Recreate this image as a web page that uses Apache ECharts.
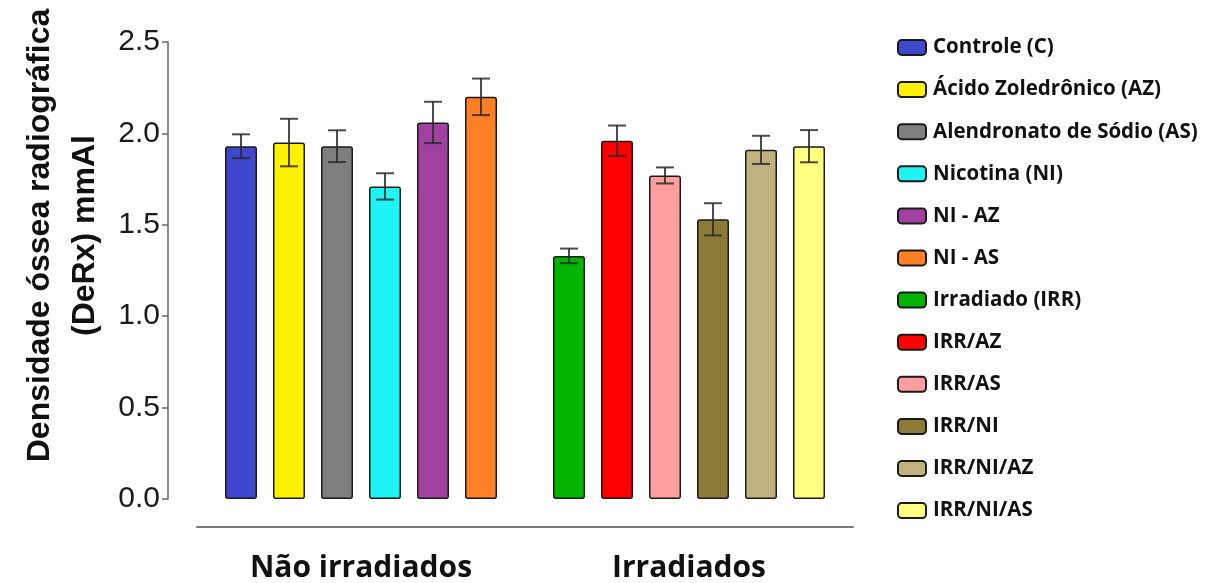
<!DOCTYPE html>
<html>
<head>
<meta charset="utf-8">
<script src="https://cdn.jsdelivr.net/npm/echarts@6/dist/echarts.min.js"></script>
<style>
html,body{margin:0;padding:0;background:#fff;}
#chart{width:1218px;height:583px;}
</style>
</head>
<body>
<div id="chart"></div>
<script>
var categories = ['Não irradiados', 'Irradiados'];
var names1 = ['Controle (C)', 'Ácido Zoledrônico (AZ)', 'Alendronato de Sódio (AS)', 'Nicotina (NI)', 'NI - AZ', 'NI - AS'];
var names2 = ['Irradiado (IRR)', 'IRR/AZ', 'IRR/AS', 'IRR/NI', 'IRR/NI/AZ', 'IRR/NI/AS'];
var means1 = [1.93, 1.95, 1.93, 1.71, 2.06, 2.20];
var errs1 = [0.065, 0.13, 0.087, 0.072, 0.113, 0.10];
var means2 = [1.33, 1.96, 1.77, 1.53, 1.91, 1.93];
var errs2 = [0.04, 0.083, 0.044, 0.088, 0.077, 0.088];
var colors1 = ['#3f48cc', '#fff200', '#7f7f7f', '#1ef4f4', '#a040a0', '#ff7f27'];
var colors2 = ['#00b400', '#ff0000', '#fe9e9e', '#8c7a38', '#bfb27e', '#ffff80'];
var yTicks = { min: 0, max: 2.5, interval: 0.5 };

var BAR_W = 32, BAR_GAP = 16;

var chart = echarts.init(document.getElementById('chart'));
var series = [];
var errData = [];
function addGroup(names, means, errs, colors, catIdx) {
  names.forEach(function (n, i) {
    var d = categories.map(function (c, ci) { return ci === catIdx ? means[i] : '-'; });
    series.push({
      name: n,
      type: 'bar',
      stack: 'slot' + i,
      barWidth: BAR_W,
      barGap: (BAR_GAP / BAR_W * 100) + '%',
      data: d,
      itemStyle: { color: colors[i], borderColor: '#1a1a1a', borderWidth: 1.5, borderRadius: 2 }
    });
    errData.push([catIdx, means[i], errs[i], i]);
  });
}
addGroup(names1, means1, errs1, colors1, 0);
addGroup(names2, means2, errs2, colors2, 1);

series.push({
  type: 'custom',
  name: 'err',
  z: 10,
  data: errData,
  renderItem: function (params, api) {
    var cat = api.value(0), v = api.value(1), e = api.value(2), slot = api.value(3);
    var c = api.coord([cat, v]);
    var x = c[0] + (slot - 2.5) * (BAR_W + BAR_GAP);
    var yt = api.coord([cat, v + e])[1];
    var yb = api.coord([cat, v - e])[1];
    var hw = 9;
    var st = { stroke: '#2b2b2b', lineWidth: 2, opacity: 0.85 };
    return {
      type: 'group',
      children: [
        { type: 'line', shape: { x1: x, y1: yt, x2: x, y2: yb }, style: st },
        { type: 'line', shape: { x1: x - hw, y1: yt, x2: x + hw, y2: yt }, style: st },
        { type: 'line', shape: { x1: x - hw, y1: yb, x2: x + hw, y2: yb }, style: st }
      ]
    };
  }
});

chart.setOption({
  animation: false,
  backgroundColor: '#fff',
  grid: { left: 197, width: 656, top: 42, bottom: 83 },
  legend: {
    data: names1.concat(names2),
    orient: 'vertical',
    left: 892,
    top: 32,
    itemWidth: 28,
    itemHeight: 15,
    itemGap: 21.1,
    textStyle: { fontFamily: 'Open Sans', fontWeight: 'bold', fontSize: 20.5, color: '#111', lineHeight: 21, padding: [0, 0, 0, 2] }
  },
  xAxis: {
    type: 'category',
    data: categories,
    offset: 28,
    axisLine: { onZero: false, lineStyle: { color: '#777', width: 2 } },
    axisTick: { alignWithLabel: true, length: 6, lineStyle: { color: '#777', width: 1.5 } },
    axisLabel: { margin: 26, fontFamily: 'Open Sans', fontWeight: 'bold', fontSize: 30, color: '#111' }
  },
  yAxis: {
    type: 'value',
    min: yTicks.min, max: yTicks.max, interval: yTicks.interval,
    offset: 29,
    name: 'Densidade óssea radiográfica\n(DeRx) mmAl',
    nameLocation: 'middle',
    nameRotate: 90,
    nameGap: 57,
    nameTextStyle: { fontFamily: 'Liberation Sans', fontWeight: 'bold', fontSize: 32, color: '#111', lineHeight: 45, padding: [0, 0, 0, 70] },
    splitLine: { show: false },
    axisLine: { show: true, lineStyle: { color: '#666', width: 1.5 } },
    axisTick: { show: true, length: 6, lineStyle: { color: '#666', width: 1.5 } },
    axisLabel: {
      margin: 8, fontFamily: 'Liberation Sans', fontSize: 30, color: '#1a1a1a',
      formatter: function (v) { return v.toFixed(1); }
    }
  },
  series: series
});
</script>
</body>
</html>
